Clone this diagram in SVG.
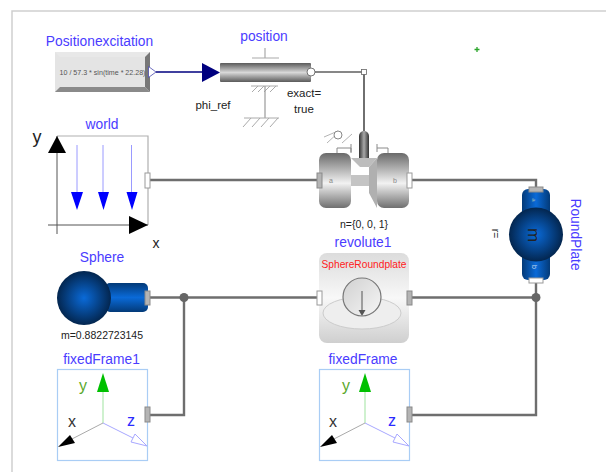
<svg xmlns="http://www.w3.org/2000/svg" width="606" height="472" viewBox="0 0 606 472">
<style>
text{font-family:"Liberation Sans",Arial,sans-serif;text-anchor:middle}
.n{fill:#4a3cff;font-size:13.800px}
.d{fill:#222;font-size:10.500px}
.p{fill:#222;font-size:11.500px}
.c{fill:none;stroke:#6e6e6e;stroke-width:2.400}
.fg{fill:#b4b4b4;stroke:#8a8a8a;stroke-width:1}
.fw{fill:#fff;stroke:#9a9a9a;stroke-width:1}
.hatch{stroke:#aaa;stroke-width:1;fill:none}
.frame{fill:#fff;stroke:#a9cdf5;stroke-width:1.200}
.ay{font-size:16px;fill:#5aa82a}
.ax{font-size:16px;fill:#333}
.az{font-size:16px;fill:#2a2aff}
</style>
<defs>
<linearGradient id="rod" x1="0" y1="0" x2="0" y2="1"><stop offset="0" stop-color="#5a5a5a"/><stop offset=".5" stop-color="#d8d8d8"/><stop offset="1" stop-color="#5a5a5a"/></linearGradient>
<linearGradient id="drum" x1="0" y1="0" x2="0" y2="1"><stop offset="0" stop-color="#6a6a6a"/><stop offset=".55" stop-color="#f2f2f2"/><stop offset="1" stop-color="#6f6f6f"/></linearGradient>
<linearGradient id="vrod" x1="0" y1="0" x2="1" y2="0"><stop offset="0" stop-color="#333"/><stop offset=".5" stop-color="#a8a8a8"/><stop offset="1" stop-color="#333"/></linearGradient>
<linearGradient id="blueH" x1="0" y1="0" x2="0" y2="1"><stop offset="0" stop-color="#033a78"/><stop offset=".5" stop-color="#0a6ad8"/><stop offset="1" stop-color="#033a78"/></linearGradient>
<linearGradient id="blueV" x1="0" y1="0" x2="1" y2="0"><stop offset="0" stop-color="#033a78"/><stop offset=".5" stop-color="#0a6ad8"/><stop offset="1" stop-color="#033a78"/></linearGradient>
<radialGradient id="ball"><stop offset="0" stop-color="#0a6ad8"/><stop offset="1" stop-color="#03264f"/></radialGradient>
<linearGradient id="box" x1="0" y1="0" x2="0" y2="1"><stop offset="0" stop-color="#dcdcdc"/><stop offset=".5" stop-color="#f8f8f8"/><stop offset="1" stop-color="#cfcfcf"/></linearGradient>
<linearGradient id="dial" x1="0" y1="0" x2="1" y2="1"><stop offset="0" stop-color="#d0d0d0"/><stop offset="1" stop-color="#f6f6f6"/></linearGradient>
</defs>
<path d="M12 472V11H606" fill="none" stroke="#cfcfcf" stroke-width="1.500"/>
<path d="M477 47V52M474.500 49.500H479.500" stroke="#2aa52a" stroke-width="1.300"/>
<g id="connectors">
<path d="M156 72H203" fill="none" stroke="#00007f" stroke-width="1.500"/>
<path d="M315 72H364V131" fill="none" stroke="#111" stroke-width="1.200"/>
<path class="c" d="M150 180H317"/>
<path class="c" d="M412 180H536V187"/>
<path class="c" d="M150 297.500H317"/>
<path class="c" d="M184 297.500V415H150"/>
<path class="c" d="M412 297.500H536"/>
<path class="c" d="M536 282V415H412"/>
<circle cx="184" cy="297.500" r="4.500" fill="#666"/>
<circle cx="536" cy="297.500" r="4.500" fill="#666"/>
<rect x="361.500" y="69.500" width="5" height="5" fill="#fff" stroke="#666" stroke-width=".8"/>
</g>
<g id="Positionexcitation">
<rect x="55" y="52" width="95" height="40" fill="#e4e4e4"/>
<path d="M55 52H150L145 57H60Z" fill="#e8e8e8"/>
<path d="M150 52V92L145 87V57Z" fill="#777"/>
<path d="M55 92H150L145 87H60Z" fill="#8a8a8a"/>
<text x="102.500" y="75" style="font-size:7.100px;fill:#555">10 / 57.3 * sin(time * 22.28)</text>
<path d="M148.500 66.500L156 72L148.500 77.500Z" fill="#fff" stroke="#4a4ab0" stroke-width=".8"/>
<text class="n" x="99.500" y="46">Positionexcitation</text>
</g>
<g id="position">
<path d="M265 48V58M252 58H279" stroke="#aaa" stroke-width="1.200" fill="none"/>
<path class="hatch" d="M251 86H278M252 92L258 86M258 92L264 86M264 92L270 86M270 92L276 86"/>
<path d="M265 86V118" stroke="#999" stroke-width="1.200"/>
<path class="hatch" d="M244 118H279M243 127L251 118M252 127L260 118M261 127L269 118M270 127L278 118"/>
<rect x="220" y="63" width="91" height="19" rx="1" fill="url(#rod)"/>
<path d="M202 63L220 72.500L202 82Z" fill="#00007f"/>
<circle cx="311" cy="72" r="4" fill="#fff" stroke="#555" stroke-width=".8"/>
<text class="n" x="264" y="41">position</text>
<text class="p" x="213" y="109">phi_ref</text>
<text class="p" x="304" y="97">exact=</text>
<text class="p" x="304" y="113">true</text>
</g>
<g id="world">
<path d="M57 136H148V225" fill="none" stroke="#b0b0b0" stroke-width="1.200"/>
<path d="M57 136V234M48 225H148" fill="none" stroke="#555" stroke-width="1"/>
<path d="M57 136L66 153H48Z" fill="#000"/>
<path d="M148 225L129 216V234Z" fill="#000"/>
<path d="M77 145V193M103 145V193M131.500 145V193" stroke="#9a9aff" stroke-width="1"/>
<path d="M71 192H83L77 210ZM98 192H109L103.500 210ZM126.500 192H137.500L132 210Z" fill="#0000ff"/>
<rect class="fw" x="145" y="173" width="5" height="15"/>
<text class="n" x="102" y="129">world</text>
<text x="37" y="143" style="font-size:18px;fill:#222">y</text>
<text x="156" y="248" style="font-size:14px;fill:#222">x</text>
</g>
<g id="revolute">
<path d="M351 175H377V186H351Z" fill="#c4c4c4"/>
<path d="M351 158H377L369 167H360Z" fill="#bdbdbd"/>
<path d="M369 167L377 158V208L369 193Z" fill="#b0b0b0"/>
<path d="M337 153V148H351V153M351 144V152M377 144V152M377 148H388V153" fill="none" stroke="#8a8a8a" stroke-width="1"/>
<path d="M324 137L338 131M327 143L340 131M342 143L352 134" stroke="#aaa" stroke-width=".9"/>
<circle cx="338" cy="135" r="4" fill="#fff" stroke="#888" stroke-width="1"/>
<path d="M359 158V136A5 5 0 0 1 369 136V158Z" fill="url(#vrod)"/>
<rect x="319" y="153" width="32" height="55" rx="7" fill="url(#drum)"/>
<rect x="377" y="153" width="32" height="55" rx="7" fill="url(#drum)"/>
<rect class="fg" x="317" y="173" width="5" height="15"/>
<rect class="fw" x="407" y="173" width="5" height="15"/>
<text x="331" y="183" style="font-size:7px;fill:#888">a</text>
<text x="395" y="183" style="font-size:7px;fill:#888">b</text>
<text class="d" x="364" y="228">n={0, 0, 1}</text>
<text class="n" x="363" y="247">revolute1</text>
</g>
<g id="RoundPlate">
<rect x="522" y="189" width="28" height="91" rx="6" fill="url(#blueV)"/>
<circle cx="536" cy="234.500" r="27" fill="url(#ball)"/>
<rect class="fg" x="529" y="187" width="14" height="5"/>
<rect class="fw" x="529" y="278" width="14" height="5"/>
<text transform="translate(532 200) rotate(90)" style="font-size:6px;fill:#9bb">a</text>
<text transform="translate(532 267) rotate(90)" style="font-size:7px;fill:#cde">b</text>
<text transform="translate(528 235) rotate(90)" style="font-size:17px;fill:#222">m</text>
<text transform="translate(492 233.500) rotate(90)" class="d">r=</text>
<text transform="translate(571 234.500) rotate(90)" class="n">RoundPlate</text>
</g>
<g id="Sphere">
<rect x="105" y="283" width="43" height="29" rx="5" fill="url(#blueH)"/>
<circle cx="84" cy="298" r="27" fill="url(#ball)"/>
<rect class="fg" x="145" y="291" width="5" height="14"/>
<text class="n" x="102" y="262">Sphere</text>
<text class="d" x="102" y="339">m=0.8822723145</text>
</g>
<g id="SphereRoundplate">
<rect x="319" y="253" width="90" height="90" rx="8" fill="url(#box)"/>
<ellipse cx="362" cy="313" rx="39" ry="16" fill="#eee" stroke="#ccc" stroke-width="1"/>
<circle cx="362" cy="297" r="19" fill="url(#dial)" stroke="#777" stroke-width="1.200"/>
<path d="M362 291V312" stroke="#555" stroke-width="1"/>
<path d="M358.500 310H365.500L362 316Z" fill="#555"/>
<rect class="fw" x="317" y="291" width="5" height="14"/>
<rect class="fg" x="407" y="291" width="5" height="14"/>
<text x="364" y="268" style="font-size:10.200px;fill:#ff2020">SphereRoundplate</text>
</g>
<g id="fixedFrame1">
<rect class="frame" x="57.500" y="369.500" width="90" height="91"/>
<path d="M103 423V392" stroke="#9fe39f" stroke-width="1"/>
<path d="M103 373L109 392H97Z" fill="#00c000"/>
<path d="M103 423L70 440" stroke="#aaa" stroke-width="1"/>
<path d="M58 447L70 435L75 443Z" fill="#000"/>
<path d="M103 423L133 438" stroke="#a8a8ff" stroke-width="1"/>
<path d="M147 446L135 434L131 442Z" fill="#fff" stroke="#a8a8ff" stroke-width="1"/>
<rect class="fg" x="145" y="407" width="5" height="15"/>
<text class="n" x="101.500" y="364">fixedFrame1</text>
<text class="ay" x="83" y="391">y</text>
<text class="ax" x="72" y="427">x</text>
<text class="az" x="131" y="426">z</text>
</g>
<g id="fixedFrame">
<rect class="frame" x="319.500" y="369.500" width="90" height="91"/>
<path d="M365 423V392" stroke="#9fe39f" stroke-width="1"/>
<path d="M365 373L371 392H359Z" fill="#00c000"/>
<path d="M365 423L332 440" stroke="#aaa" stroke-width="1"/>
<path d="M320 447L332 435L337 443Z" fill="#000"/>
<path d="M365 423L395 438" stroke="#a8a8ff" stroke-width="1"/>
<path d="M409 446L397 434L393 442Z" fill="#fff" stroke="#a8a8ff" stroke-width="1"/>
<rect class="fg" x="407" y="407" width="5" height="15"/>
<text class="n" x="363" y="364">fixedFrame</text>
<text class="ay" x="346" y="391">y</text>
<text class="ax" x="333" y="427">x</text>
<text class="az" x="392" y="426">z</text>
</g>
</svg>
